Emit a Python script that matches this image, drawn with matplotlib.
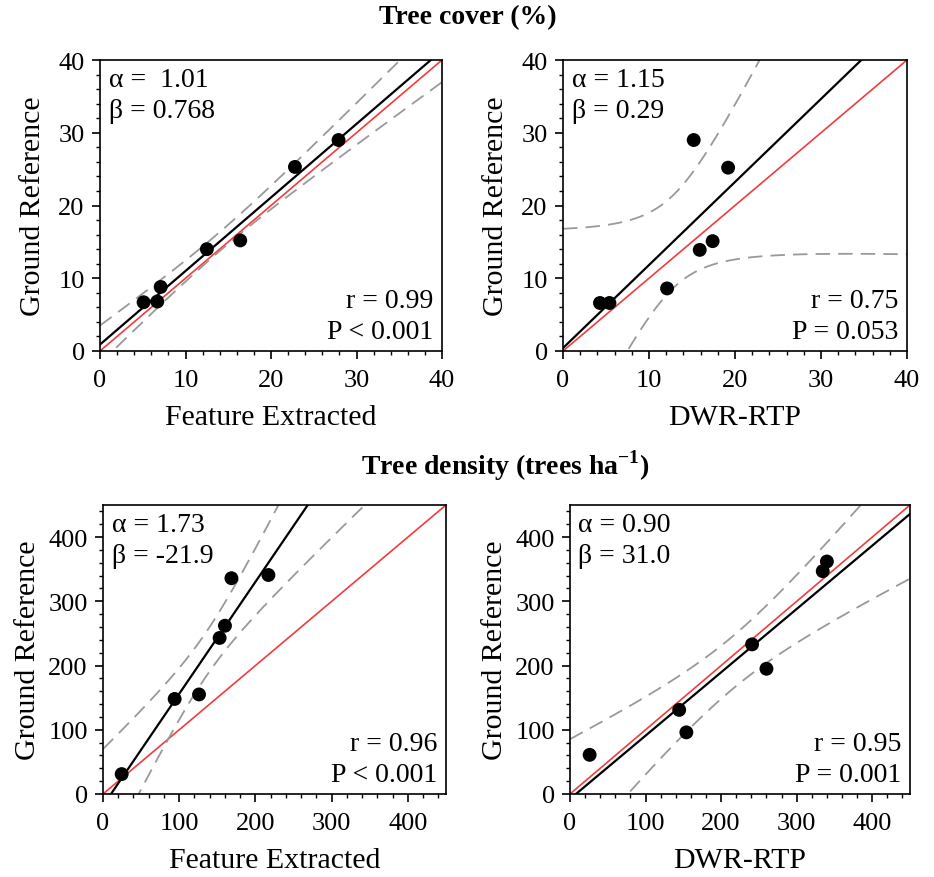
import numpy as np
import matplotlib
matplotlib.use("Agg")
import matplotlib.pyplot as plt
from matplotlib.ticker import MultipleLocator

plt.rcParams['font.family'] = ['Liberation Serif', 'DejaVu Serif']
plt.rcParams['mathtext.fontset'] = 'custom'
plt.rcParams['mathtext.rm'] = 'Liberation Serif'
plt.rcParams['mathtext.bf'] = 'Liberation Serif:bold'

# ---- data ----
cover_fe_x = [5.1, 6.7, 7.1, 12.5, 16.4, 22.8, 27.9]
cover_fe_y = [6.7, 6.8, 8.8, 14.0, 15.2, 25.3, 29.0]

cover_dwr_x = [4.3, 5.4, 12.1, 15.2, 15.9, 17.4, 19.2]
cover_dwr_y = [6.6, 6.6, 8.6, 29.0, 13.9, 15.1, 25.2]

dens_fe_x = [24.5, 94.0, 126.0, 153.0, 160.0, 168.5, 217.0]
dens_fe_y = [31.0, 148.0, 155.0, 243.0, 262.0, 336.0, 341.0]

dens_dwr_x = [26.0, 144.5, 154.0, 241.0, 260.0, 334.5, 340.0]
dens_dwr_y = [61.0, 131.0, 96.0, 233.0, 195.0, 347.0, 362.0]

alpha_txt = ["α =  1.01", "α = 1.15", "α = 1.73", "α = 0.90"]
beta_txt = ["β = 0.768", "β = 0.29", "β = -21.9", "β = 31.0"]
r_txt = ["r = 0.99", "r = 0.75", "r = 0.96", "r = 0.95"]
p_txt = ["P < 0.001", "P = 0.053", "P < 0.001", "P = 0.001"]

xlabels = ["Feature Extracted", "DWR-RTP", "Feature Extracted", "DWR-RTP"]
ylabel = "Ground Reference"
titles = ["Tree cover (%)", r"Tree density (trees ha$^{\mathbf{-1}}$)"]

T975_DF5 = 2.5706  # Student t, 95 %, n-2 = 5

W, H = 934, 878
fig = plt.figure(figsize=(W / 100, H / 100), dpi=100)


def ax_at(l, t, r, b):
    return fig.add_axes([l / W, 1 - b / H, (r - l) / W, (b - t) / H])


axes = [ax_at(100, 61, 442, 352), ax_at(563, 61, 907, 352),
        ax_at(103, 506, 446, 795), ax_at(570, 506, 910, 795)]

datasets = [(cover_fe_x, cover_fe_y), (cover_dwr_x, cover_dwr_y),
            (dens_fe_x, dens_fe_y), (dens_dwr_x, dens_dwr_y)]
lims = [40, 40, 450, 450]
majors = [10, 10, 100, 100]
minors = [2, 2, 20, 20]
ylabpads = [9, 9, 5, 5]

for i, ax in enumerate(axes):
    x = np.asarray(datasets[i][0], float)
    y = np.asarray(datasets[i][1], float)
    lim = lims[i]
    n = len(x)
    b1, b0 = np.polyfit(x, y, 1)
    res = y - (b1 * x + b0)
    s = np.sqrt(np.sum(res ** 2) / (n - 2))
    xm = x.mean()
    sxx = np.sum((x - xm) ** 2)
    xg = np.linspace(0, lim, 400)
    yg = b1 * xg + b0
    hw = T975_DF5 * s * np.sqrt(1.0 / n + (xg - xm) ** 2 / sxx)

    ax.plot([0, lim], [0, lim], color='#f03c3c', lw=1.2, zorder=2)
    ax.plot(xg, yg + hw, color='#999999', lw=1.3, dashes=(8, 4.5), zorder=2)
    ax.plot(xg, yg - hw, color='#999999', lw=1.3, dashes=(8, 4.5), zorder=2)
    ax.plot(xg, yg, color='black', lw=1.6, zorder=3)
    ax.scatter(x, y, s=100, color='black', zorder=4, edgecolors='none')

    ax.set_xlim(0, lim)
    ax.set_ylim(0, lim)
    ax.xaxis.set_major_locator(MultipleLocator(majors[i]))
    ax.yaxis.set_major_locator(MultipleLocator(majors[i]))
    ax.xaxis.set_minor_locator(MultipleLocator(minors[i]))
    ax.yaxis.set_minor_locator(MultipleLocator(minors[i]))
    ax.tick_params(which='major', direction='out', length=6, width=1.2,
                   labelsize=19)
    ax.tick_params(axis='x', which='major', pad=7)
    ax.tick_params(axis='y', which='major', pad=5)
    ax.tick_params(which='minor', direction='out', length=3, width=1.0)
    for sp in ax.spines.values():
        sp.set_linewidth(1.2)

    ax.set_xlabel(xlabels[i], fontsize=21.5, labelpad=9)
    ax.set_ylabel(ylabel, fontsize=21.5, labelpad=ylabpads[i])

    ax.text(0.025, 0.975, alpha_txt[i] + "\n" + beta_txt[i], transform=ax.transAxes,
            ha='left', va='top', fontsize=20, linespacing=1.3)
    ax.text(0.975, 0.025, r_txt[i] + "\n" + p_txt[i], transform=ax.transAxes,
            ha='right', va='bottom', fontsize=20, linespacing=1.28, multialignment='right')

fig.text(467.5 / W, 1 - 18 / H, titles[0], ha='center', va='center',
         fontsize=20, fontweight='bold')
fig.text(505 / W, 1 - 466 / H, titles[1], ha='center', va='center',
         fontsize=20, fontweight='bold')

fig.savefig("out.png", dpi=100)
